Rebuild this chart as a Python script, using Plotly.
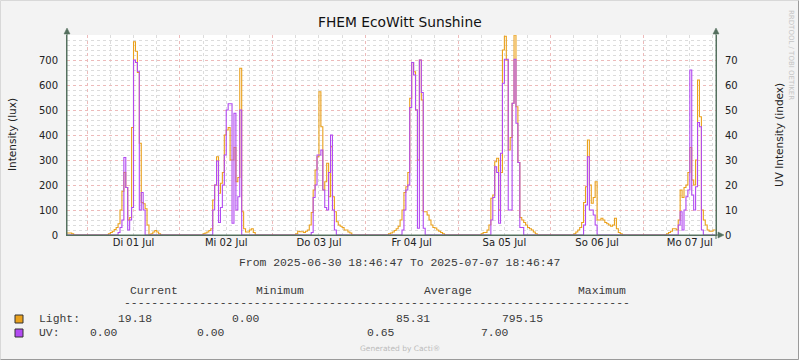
import plotly.graph_objects as go
from datetime import datetime, timedelta

# ---------------- data ----------------
T_START = "2025-06-30 18:46:47"
T_END = "2025-07-07 18:46:47"

# half-hour samples, lists start at the given clock time
light_0630 = [8, 8, 8, 5, 0]            # from 18:30
uv_0630 = [0, 0, 0, 0, 0]

# each day list starts at 05:00, 30-min step
light_0701 = [0, 5, 10, 15, 22, 30, 45, 100, 175, 250, 190, 60, 70, 430, 773, 735, 650, 367, 130, 125, 105, 40, 0, 5, 12, 18, 12, 5, 0, 0, 0, 0, 0]
uv_0701 = [0, 0, 0, 0, 0, 0, 1, 3, 6, 31, 19, 2, 6, 11, 70, 69, 65.5, 10, 17, 10, 0, 0, 0, 0, 0, 0, 0, 0, 0, 0, 0, 0, 0]

light_0702 = [0, 0, 5, 8, 12, 18, 25, 140, 200, 313, 167, 207, 250, 400, 420, 430, 300, 300, 350, 213, 230, 667, 93, 25, 12, 12, 20, 25, 10, 0, 0, 0, 0]
uv_0702 = [0, 0, 0, 0, 0, 0, 0, 10, 20, 29.6, 5, 11, 20, 32, 50, 52.5, 52.5, 4.7, 48.7, 10, 15.3, 50, 0, 0, 0, 0, 0, 0, 0, 0, 0, 0, 0]

light_0703 = [0, 0, 5, 15, 13, 13, 10, 15, 20, 40, 90, 180, 260, 313, 573, 433, 180, 213, 287, 153, 353, 153, 93, 53, 40, 35, 30, 20, 20, 12, 8, 0, 0]
uv_0703 = [0, 0, 0, 0, 0, 0, 0, 0, 0, 0, 1, 15, 20, 32, 32, 34, 18, 11, 10, 25, 40, 10, 2, 0, 0, 0, 0, 0, 0, 0, 0, 0, 0]

light_0704 = [0, 0, 5, 8, 12, 18, 25, 35, 60, 100, 170, 193, 250, 547, 690, 653, 500, 300, 700, 540, 93, 93, 80, 60, 40, 30, 28, 20, 15, 10, 5, 0, 0]
uv_0704 = [0, 0, 0, 0, 0, 0, 0, 0, 0, 2, 10, 18, 20, 51, 69, 64, 50, 2.7, 70, 57, 2.7, 0, 0, 0, 0, 0, 0, 0, 0, 0, 0, 0, 0]

light_0705 = [0, 0, 5, 10, 10, 20, 40, 147, 160, 293, 307, 100, 250, 740, 795, 700, 340, 390, 527, 800, 513, 290, 70, 60, 50, 40, 30, 25, 20, 12, 5, 0, 0]
uv_0705 = [0, 0, 0, 0, 0, 0, 0, 6, 15, 27.3, 25, 4.7, 32.7, 60.7, 70.3, 70.3, 10, 10, 52.7, 70.3, 44.7, 29, 3, 3, 0, 0, 0, 0, 0, 0, 0, 0, 0]

light_0706 = [0, 0, 5, 12, 20, 30, 50, 130, 193, 380, 200, 127, 150, 213, 60, 60, 67, 60, 50, 45, 40, 35, 40, 67, 25, 10, 5, 0, 0, 0, 0, 0, 0]
uv_0706 = [0, 0, 0, 0, 0, 0, 0, 4, 12, 31.3, 10, 10, 8, 4, 0, 0, 0, 0, 0, 0, 0, 0, 0, 0, 0, 0, 0, 0, 0, 0, 0, 0, 0]

light_0707 = [0, 0, 5, 10, 15, 25, 25, 20, 60, 180, 150, 190, 200, 250, 350, 220, 200, 300, 620, 473, 100, 60, 40, 20, 15, 15, 20, 19.18]
uv_0707 = [0, 0, 0, 0, 0, 0, 0, 0, 4, 9.3, 2, 10, 15.3, 18, 66, 16, 10, 19.3, 45, 43.3, 2, 0, 0, 0, 0, 0, 0, 0]

day_labels = ["Di 01 Jul", "Mi 02 Jul", "Do 03 Jul", "Fr 04 Jul", "Sa 05 Jul", "So 06 Jul", "Mo 07 Jul"]
day_dates = ["2025-07-01", "2025-07-02", "2025-07-03", "2025-07-04", "2025-07-05", "2025-07-06", "2025-07-07"]
left_ticks = [0, 100, 200, 300, 400, 500, 600, 700]
right_ticks = [0, 10, 20, 30, 40, 50, 60, 70]

legend_headers = ["Current", "Minimum", "Average", "Maximum"]
light_stats = ["19.18", "0.00", "85.31", "795.15"]
uv_stats = ["0.00", "0.00", "0.65", "7.00"]

# ---------------- build series ----------------
day_light = [light_0701, light_0702, light_0703, light_0704, light_0705, light_0706, light_0707]
day_uv = [uv_0701, uv_0702, uv_0703, uv_0704, uv_0705, uv_0706, uv_0707]


def times(start, n):
    base = datetime.fromisoformat(start)
    return [base + timedelta(minutes=30 * i) for i in range(n)]


xs = times("2025-06-30 18:30:00", len(light_0630))
light = list(light_0630)
uv = list(uv_0630)
for d, lv, uvv in zip(day_dates, day_light, day_uv):
    xs += times(d + " 05:00:00", len(lv))
    light += lv
    uv += uvv

ORANGE = "#EAA11C"
PURPLE = "#B24AF2"
AXIS = "#55705F"
MAJOR_GRID = "#EDBABA"
MINOR_GRID = "#DCDCDC"
W, H = 799, 360
L, R, T, B = 67, 716, 35, 235


def px(x):
    return (x - L) / (R - L)


def py(y):
    return (B - y) / (B - T)


fig = go.Figure()
fig.add_trace(go.Scatter(x=xs, y=light, mode="lines", line=dict(color=ORANGE, width=1.1, shape="hv"),
                         name="Light", showlegend=False, hoverinfo="skip"))
fig.add_trace(go.Scatter(x=xs, y=uv, mode="lines", line=dict(color=PURPLE, width=1.1, shape="hv"),
                         name="UV", xaxis="x2", yaxis="y2", showlegend=False, hoverinfo="skip"))

noons = [d + " 12:00:00" for d in day_dates]

fig.update_layout(
    width=W, height=H,
    margin=dict(l=L, r=W - R, t=T, b=H - B, pad=0, autoexpand=False),
    paper_bgcolor="#F3F3F3",
    plot_bgcolor="#FFFFFF",
    font=dict(family="DejaVu Sans", size=10, color="#222222"),
    xaxis=dict(
        type="date", range=[T_START, T_END],
        tick0="2025-07-01", dtick=86400000,
        showticklabels=False, ticks="",
        showgrid=True, gridcolor=MAJOR_GRID, griddash="dot", gridwidth=1,
        minor=dict(dtick=21600000, tick0="2025-07-01", showgrid=True, gridcolor=MINOR_GRID, griddash="dot", ticks=""),
        showline=True, linecolor=AXIS, linewidth=1, zeroline=False, fixedrange=True,
    ),
    xaxis2=dict(
        type="date", overlaying="x", matches="x", anchor="y", side="bottom",
        tickmode="array", tickvals=noons, ticktext=day_labels,
        showgrid=False, ticks="", showline=False, zeroline=False,
        tickfont=dict(size=10, color="#222222"),
    ),
    yaxis=dict(
        range=[0, 800], tickmode="array", tickvals=left_ticks,
        showgrid=True, gridcolor=MAJOR_GRID, griddash="dot", gridwidth=1,
        minor=dict(dtick=20, tick0=0, showgrid=True, gridcolor=MINOR_GRID, griddash="dot", ticks=""),
        showline=True, linecolor=AXIS, linewidth=1, zeroline=False, ticks="",
        ticklabelstandoff=6, tickfont=dict(size=10, color="#222222"),
    ),
    yaxis2=dict(
        range=[0, 80], overlaying="y", side="right", anchor="x",
        tickmode="array", tickvals=right_ticks,
        showgrid=False, showline=True, linecolor=AXIS, linewidth=1, zeroline=False, ticks="",
        ticklabelstandoff=6, tickfont=dict(size=10, color="#222222"),
    ),
)

ann = []
# title & axis titles
ann.append(dict(text="FHEM EcoWitt Sunshine", x=px(400), y=py(22), font=dict(size=13.8, color="#111111")))
ann.append(dict(text="Intensity (lux)", x=px(12), y=py(135), textangle=-90, font=dict(size=10.5, color="#222222")))
ann.append(dict(text="UV Intensity (index)", x=px(779), y=py(135), textangle=-90, font=dict(size=10.5, color="#222222")))
ann.append(dict(text="RRDTOOL / TOBI OETIKER", x=px(791), y=py(55), textangle=90, font=dict(size=7, color="#C4C4C4")))

MONO = "Liberation Mono"
MS = 11.4
TXT = "#3A3A3A"
ann.append(dict(text=f"From {T_START} To {T_END}", x=px(399), y=py(263),
                font=dict(family=MONO, size=MS, color=TXT)))
for txt, x in zip(legend_headers, [128, 254, 422, 576]):
    ann.append(dict(text=txt, x=px(x), y=py(291), xanchor="left", font=dict(family=MONO, size=MS, color=TXT)))
ann.append(dict(text="-" * 74, x=px(122), y=py(303), xanchor="left", font=dict(family=MONO, size=MS, color=TXT)))
ann.append(dict(text="Light:", x=px(37), y=py(319), xanchor="left", font=dict(family=MONO, size=MS, color=TXT)))
for txt, x in zip(light_stats, [116, 230, 394, 500]):
    ann.append(dict(text=txt, x=px(x), y=py(319), xanchor="left", font=dict(family=MONO, size=MS, color=TXT)))
ann.append(dict(text="UV:", x=px(37), y=py(333), xanchor="left", font=dict(family=MONO, size=MS, color=TXT)))
for txt, x in zip(uv_stats, [88, 195, 365, 479]):
    ann.append(dict(text=txt, x=px(x), y=py(333), xanchor="left", font=dict(family=MONO, size=MS, color=TXT)))
ann.append(dict(text="Generated by Cacti®", x=px(400), y=py(349), font=dict(size=7.5, color="#BBBBBB")))

for a in ann:
    a.setdefault("xref", "paper")
    a.setdefault("yref", "paper")
    a.setdefault("showarrow", False)
    a.setdefault("xanchor", "center")
    a.setdefault("yanchor", "middle")
fig.update_layout(annotations=ann)

shapes = []
# frame
shapes.append(dict(type="line", x0=px(0.5), x1=px(798.5), y0=py(0.5), y1=py(0.5), line=dict(color="#D8D8D8", width=1)))
shapes.append(dict(type="line", x0=px(0.5), x1=px(0.5), y0=py(0.5), y1=py(359.5), line=dict(color="#D8D8D8", width=1)))
shapes.append(dict(type="line", x0=px(0.5), x1=px(798.5), y0=py(359.5), y1=py(359.5), line=dict(color="#9A9A9A", width=1)))
shapes.append(dict(type="line", x0=px(798.5), x1=px(798.5), y0=py(0.5), y1=py(359.5), line=dict(color="#9A9A9A", width=1)))
# axis extensions + arrows
shapes.append(dict(type="line", x0=px(L), x1=px(L), y0=py(B), y1=py(31), line=dict(color=AXIS, width=1)))
shapes.append(dict(type="line", x0=px(R), x1=px(R), y0=py(239), y1=py(31), line=dict(color=AXIS, width=1)))
shapes.append(dict(type="line", x0=px(L), x1=px(720), y0=py(B), y1=py(B), line=dict(color=AXIS, width=1)))


def tri(p):
    return "M " + " L ".join(f"{px(a)},{py(b)}" for a, b in p) + " Z"


shapes.append(dict(type="path", path=tri([(L, 28), (L - 3, 34), (L + 3, 34)]), fillcolor=AXIS, line=dict(color=AXIS, width=0.5)))
shapes.append(dict(type="path", path=tri([(R, 28), (R - 3, 34), (R + 3, 34)]), fillcolor=AXIS, line=dict(color=AXIS, width=0.5)))
shapes.append(dict(type="path", path=tri([(724, B), (718, B - 3), (718, B + 3)]), fillcolor=AXIS, line=dict(color=AXIS, width=0.5)))
# legend boxes
shapes.append(dict(type="rect", x0=px(15), x1=px(23), y0=py(315), y1=py(323), fillcolor=ORANGE, line=dict(color="#333333", width=1)))
shapes.append(dict(type="rect", x0=px(15), x1=px(23), y0=py(329), y1=py(337), fillcolor=PURPLE, line=dict(color="#333333", width=1)))
for s in shapes:
    s.setdefault("xref", "paper")
    s.setdefault("yref", "paper")
    s["layer"] = "above"
fig.update_layout(shapes=shapes)

fig.write_html("out.html", config={"displayModeBar": False},
               post_script="document.body.style.margin='0';document.body.style.padding='0';document.body.style.overflow='hidden';")
